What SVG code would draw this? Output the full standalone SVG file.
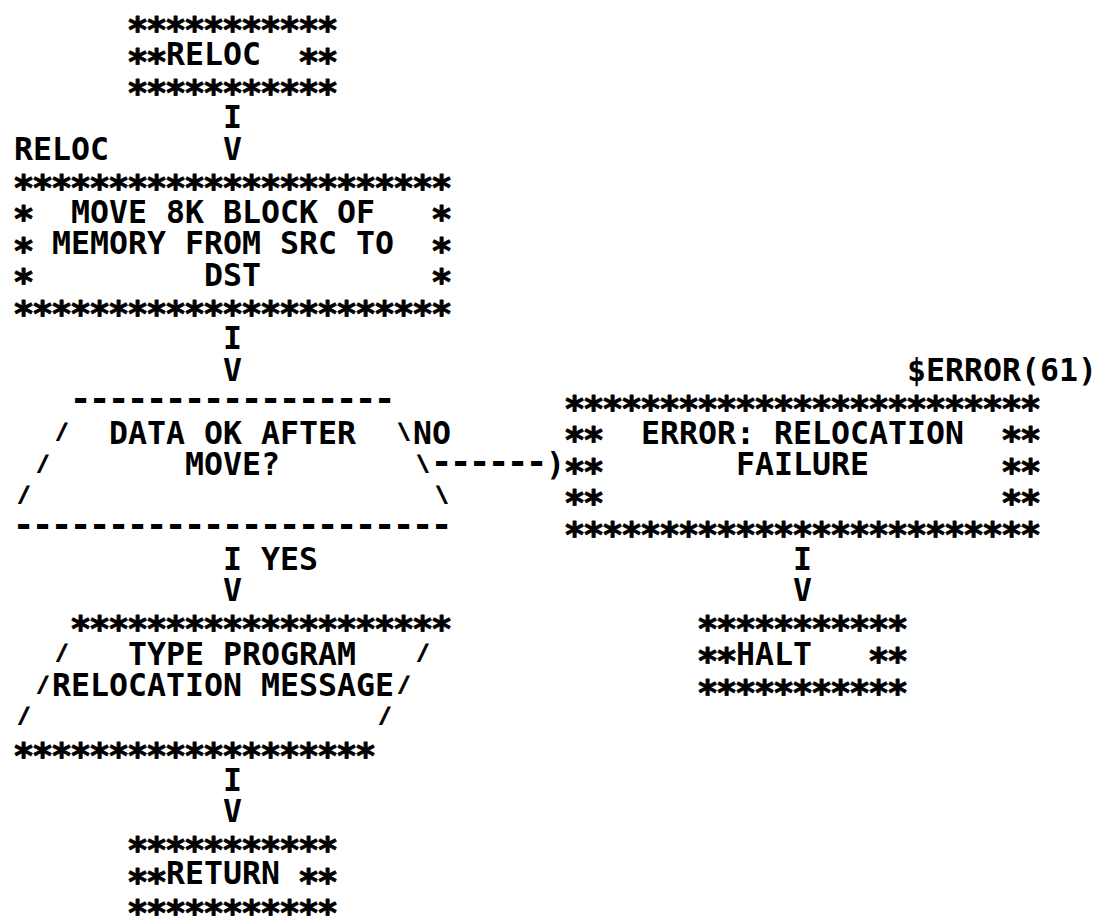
<svg xmlns="http://www.w3.org/2000/svg" width="1103" height="919" viewBox="0 0 1103 919">
<style>
text { font-family: "DejaVu Sans Mono", "Liberation Mono", monospace; font-weight: bold; fill: #000; }
.t { font-size: 31.56px; }
.s { font-size: 36px; letter-spacing: -2.67px; stroke: #000; stroke-width: 0.9px; stroke-linejoin: round; }
.d { font-size: 36px; letter-spacing: -2.67px; }
.sl { font-size: 22px; stroke: #000; stroke-width: 0.8px; }
</style>
<rect width="1103" height="919" fill="#fff"/>

<g id="node-start">
<text class="s" x="126.66" y="42">***********</text>
<text class="s" x="126.66" y="73.55">**</text>
<text class="t" x="166" y="65.05">RELOC</text>
<text class="s" x="297.66" y="73.55">**</text>
<text class="s" x="126.66" y="105.1">***********</text>
</g>

<g id="node-move">
<text class="t" x="14" y="159.7">RELOC</text>
<text class="s" x="12.66" y="199.75">***********************</text>
<text class="s" x="12.66" y="231.3">*</text>
<text class="t" x="71" y="222.8">MOVE 8K BLOCK OF</text>
<text class="s" x="430.66" y="231.3">*</text>
<text class="s" x="12.66" y="262.85">*</text>
<text class="t" x="52" y="254.35">MEMORY FROM SRC TO</text>
<text class="s" x="430.66" y="262.85">*</text>
<text class="s" x="12.66" y="294.4">*</text>
<text class="t" x="204" y="285.9">DST</text>
<text class="s" x="430.66" y="294.4">*</text>
<text class="s" x="12.66" y="325.95">***********************</text>
</g>

<g id="node-decision">
<text class="d" x="69.7" y="410.6">-----------------</text>
<text class="sl" x="55.2" y="439.15">/</text>
<text class="t" x="109" y="443.65">DATA OK AFTER</text>
<text class="sl" x="397.2" y="439.15">\</text>
<text class="sl" x="36.2" y="470.7">/</text>
<text class="t" x="185" y="475.2">MOVE?</text>
<text class="sl" x="416.2" y="470.7">\</text>
<text class="sl" x="17.2" y="502.25">/</text>
<text class="sl" x="435.2" y="502.25">\</text>
<text class="d" x="12.7" y="536.8">-----------------------</text>
</g>

<g id="node-type">
<text class="s" x="69.66" y="641.45">********************</text>
<text class="sl" x="55.2" y="660">/</text>
<text class="t" x="128" y="664.5">TYPE PROGRAM</text>
<text class="sl" x="416.2" y="660">/</text>
<text class="sl" x="36.2" y="691.55">/</text>
<text class="t" x="52" y="696.05">RELOCATION MESSAGE</text>
<text class="sl" x="397.2" y="691.55">/</text>
<text class="sl" x="17.2" y="723.1">/</text>
<text class="sl" x="378.2" y="723.1">/</text>
<text class="s" x="12.66" y="767.65">*******************</text>
</g>

<g id="node-return">
<text class="s" x="126.66" y="862.3">***********</text>
<text class="s" x="126.66" y="893.85">**</text>
<text class="t" x="166" y="884.35">RETURN</text>
<text class="s" x="297.66" y="893.85">**</text>
<text class="s" x="126.66" y="925.4">***********</text>
</g>

<g id="node-error">
<text class="t" x="907" y="380.55">$ERROR(61)</text>
<text class="s" x="563.66" y="420.6">*************************</text>
<text class="s" x="563.66" y="452.15">**</text>
<text class="t" x="641" y="443.65">ERROR: RELOCATION</text>
<text class="s" x="1000.66" y="452.15">**</text>
<text class="s" x="563.66" y="483.7">**</text>
<text class="t" x="736" y="475.2">FAILURE</text>
<text class="s" x="1000.66" y="483.7">**</text>
<text class="s" x="563.66" y="515.25">**</text>
<text class="s" x="1000.66" y="515.25">**</text>
<text class="s" x="563.66" y="546.8">*************************</text>
</g>

<g id="node-halt">
<text class="s" x="696.66" y="641.45">***********</text>
<text class="s" x="696.66" y="673">**</text>
<text class="t" x="736" y="664.5">HALT</text>
<text class="s" x="867.66" y="673">**</text>
<text class="s" x="696.66" y="704.55">***********</text>
</g>

<g id="connectors">
<text class="t" x="223" y="128.15">I</text>
<text class="t" x="223" y="159.7">V</text>
<text class="t" x="223" y="349">I</text>
<text class="t" x="223" y="380.55">V</text>
<text class="t" x="413" y="443.65">NO</text>
<text class="d" x="430.7" y="473.7">------</text>
<text class="t" x="546" y="475.2">)</text>
<text class="t" x="223" y="569.85">I</text>
<text class="t" x="261" y="569.85">YES</text>
<text class="t" x="223" y="601.4">V</text>
<text class="t" x="223" y="790.7">I</text>
<text class="t" x="223" y="822.25">V</text>
<text class="t" x="793" y="569.85">I</text>
<text class="t" x="793" y="601.4">V</text>
</g>
</svg>
